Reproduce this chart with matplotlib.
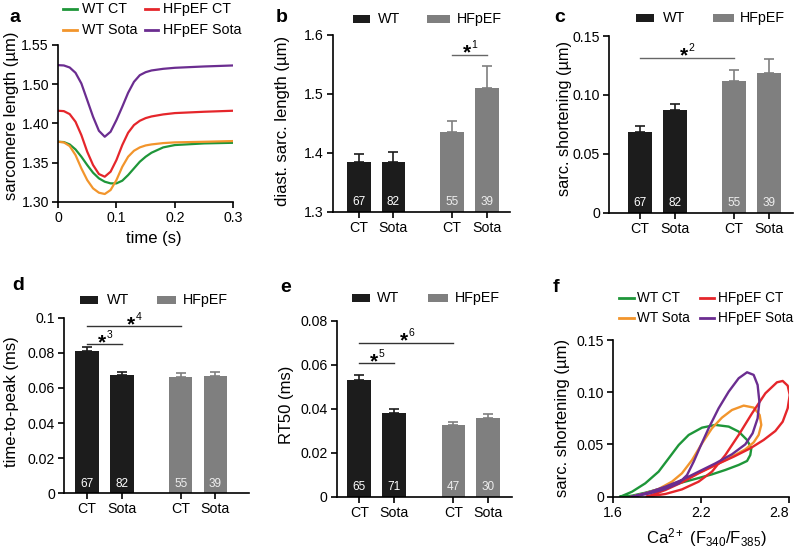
import matplotlib
matplotlib.use("Agg")
import matplotlib.pyplot as plt
from matplotlib.patches import Rectangle
from matplotlib.lines import Line2D

plt.rcParams['font.family'] = ['Liberation Sans', 'DejaVu Sans']
plt.rcParams['mathtext.fontset'] = 'custom'
plt.rcParams['mathtext.rm'] = 'Liberation Sans'
plt.rcParams['mathtext.it'] = 'Liberation Sans'
plt.rcParams['mathtext.bf'] = 'Liberation Sans:bold'

# ---------------- data ----------------
# panel a: sarcomere length transients (axis position units; tick labels as printed)
time_s = [0, 0.01, 0.02, 0.03, 0.04, 0.05, 0.06, 0.07, 0.08, 0.09, 0.10, 0.11, 0.12,
          0.13, 0.14, 0.15, 0.16, 0.18, 0.20, 0.25, 0.30]
sl_wt_ct = [1.3765, 1.3761, 1.3731, 1.3667, 1.3574, 1.3468, 1.3370, 1.3298, 1.3255, 1.3234,
            1.3234, 1.3268, 1.3340, 1.3425, 1.3510, 1.3574, 1.3625, 1.3693, 1.3723, 1.3744, 1.3752]
sl_wt_sota = [1.3765, 1.3757, 1.3710, 1.3595, 1.3425, 1.3276, 1.3170, 1.3115, 1.3098, 1.3149,
              1.3276, 1.3446, 1.3574, 1.3650, 1.3693, 1.3718, 1.3731, 1.3748, 1.3757, 1.3765, 1.3774]
sl_hf_ct = [1.4161, 1.4156, 1.4118, 1.4020, 1.3850, 1.3638, 1.3468, 1.3353, 1.3319, 1.3383,
            1.3532, 1.3723, 1.3880, 1.3978, 1.4033, 1.4067, 1.4088, 1.4114, 1.4131, 1.4148, 1.4161]
sl_hf_sota = [1.4743, 1.4739, 1.4713, 1.4645, 1.4509, 1.4297, 1.4084, 1.3905, 1.3829, 1.3893,
              1.4042, 1.4212, 1.4390, 1.4530, 1.4615, 1.4653, 1.4675, 1.4696, 1.4709, 1.4726, 1.4739]
a_yticks = [1.30, 1.35, 1.40, 1.45, 1.50]
a_yticklabels = ['1.30', '1.35', '1.40', '1.50', '1.55']

groups = ['CT', 'Sota', 'CT', 'Sota']
bar_pos = [0, 1, 2.7, 3.7]

# panel b
diast_mean = [1.384, 1.385, 1.436, 1.510]
diast_err = [0.014, 0.017, 0.019, 0.037]
diast_n = ['67', '82', '55', '39']
# panel c
short_mean = [0.0683, 0.0874, 0.1118, 0.1189]
short_err = [0.0056, 0.0049, 0.0091, 0.0113]
short_n = ['67', '82', '55', '39']
# panel d
ttp_mean = [0.0811, 0.0674, 0.0664, 0.0670]
ttp_err = [0.0021, 0.0014, 0.0020, 0.0019]
ttp_n = ['67', '82', '55', '39']
# panel e
rt50_mean = [0.0532, 0.0383, 0.0328, 0.0360]
rt50_err = [0.0022, 0.0015, 0.0014, 0.0017]
rt50_n = ['65', '71', '47', '30']

# panel f: loops (Ca ratio, shortening)
f_wt_ct_x = [1.650, 1.730, 1.820, 1.911, 1.980, 2.048, 2.116, 2.207, 2.298, 2.389, 2.457, 2.514,
             2.543, 2.536, 2.514, 2.457, 2.366, 2.275, 2.161, 2.048, 1.934, 1.820, 1.730, 1.650]
f_wt_ct_y = [0.0, 0.0048, 0.0128, 0.0240, 0.0368, 0.0495, 0.0591, 0.0661, 0.0687, 0.0671, 0.0623,
             0.0543, 0.0463, 0.0399, 0.0342, 0.0304, 0.0256, 0.0214, 0.0170, 0.0128, 0.0080,
             0.0038, 0.0010, 0.0]
f_wt_sota_x = [1.729, 1.820, 1.911, 2.002, 2.070, 2.139, 2.207, 2.275, 2.343, 2.411, 2.491, 2.559,
               2.600, 2.611, 2.593, 2.559, 2.502, 2.389, 2.275, 2.161, 2.048, 1.934, 1.820, 1.729]
f_wt_sota_y = [0.0, 0.0029, 0.0074, 0.0144, 0.0224, 0.0351, 0.0511, 0.0655, 0.0757, 0.0830, 0.0872,
               0.0853, 0.0782, 0.0687, 0.0591, 0.0520, 0.0453, 0.0367, 0.0287, 0.0214, 0.0144,
               0.0080, 0.0032, 0.0]
f_hf_ct_x = [1.832, 1.957, 2.070, 2.184, 2.275, 2.366, 2.457, 2.548, 2.639, 2.718, 2.757, 2.791,
             2.805, 2.791, 2.757, 2.707, 2.627, 2.536, 2.423, 2.298, 2.184, 2.070, 1.957, 1.832]
f_hf_ct_y = [0.0, 0.0026, 0.0070, 0.0144, 0.0240, 0.0399, 0.0591, 0.0798, 0.0990, 0.1095, 0.1108,
             0.1063, 0.0974, 0.0846, 0.0718, 0.0629, 0.0543, 0.0463, 0.0383, 0.0303, 0.0224,
             0.0137, 0.0064, 0.0]
f_hf_sota_x = [1.729, 1.843, 1.957, 2.048, 2.105, 2.150, 2.195, 2.252, 2.320, 2.389, 2.457, 2.514,
               2.559, 2.586, 2.598, 2.586, 2.552, 2.502, 2.411, 2.298, 2.184, 2.070, 1.957,
               1.843, 1.729]
f_hf_sota_y = [0.0, 0.0029, 0.0074, 0.0128, 0.0208, 0.0335, 0.0479, 0.0655, 0.0846, 0.1006,
               0.1134, 0.1191, 0.1166, 0.1070, 0.0910, 0.0750, 0.0607, 0.0501, 0.0406, 0.0319,
               0.0240, 0.0160, 0.0096, 0.0042, 0.0]

# ---------------- style ----------------
C_GREEN = '#1e9639'
C_RED = '#e5262b'
C_ORANGE = '#f2952c'
C_PURPLE = '#6b2d90'
C_WT = '#1c1c1c'
C_HF = '#7f7f7f'
bar_colors = [C_WT, C_WT, C_HF, C_HF]

W, H = 797, 552
fig = plt.figure(figsize=(W / 100, H / 100), dpi=100)


def ax_px(l, t, r, b):
    return fig.add_axes([l / W, 1 - b / H, (r - l) / W, (b - t) / H])


def ftext(x, y, s, **kw):
    fig.text(x / W, 1 - y / H, s, **kw)


def style(ax):
    for s in ['top', 'right']:
        ax.spines[s].set_visible(False)
    for s in ['left', 'bottom']:
        ax.spines[s].set_linewidth(1.2)
    ax.tick_params(direction='out', length=4.5, width=1.2, labelsize=10.2, pad=2)


def square_legend(x1, x2, y, tx, label, color):
    h = 8
    fig.add_artist(Rectangle((x1 / W, 1 - (y + h / 2) / H), (x2 - x1) / W, h / H,
                             transform=fig.transFigure, color=color, lw=0))
    ftext(tx, y, label, ha='left', va='center', fontsize=10.3)


def line_legend(x1, x2, y, tx, label, color, fs=10.3):
    fig.add_artist(Line2D([x1 / W, x2 / W], [1 - y / H, 1 - y / H], transform=fig.transFigure,
                          color=color, lw=2))
    ftext(tx, y, label, ha='left', va='center', fontsize=fs)


def sig(ax, x1, x2, y, num, color='#555555'):
    ax.plot([x1, x2], [y, y], color=color, lw=1.0, clip_on=False)
    mid = (x1 + x2) / 2
    ax.annotate('*', xy=(mid, y), xytext=(-2.0, -3.0), textcoords='offset points',
                ha='center', va='baseline', fontsize=15, fontweight='bold', annotation_clip=False)
    ax.annotate(num, xy=(mid, y), xytext=(1.2, 4.6), textcoords='offset points',
                ha='left', va='baseline', fontsize=7.5, annotation_clip=False)


def bar_panel(ax, means, errs, ns, ylim, yticks, yticklabels, xlim):
    style(ax)
    for p, m, e, c in zip(bar_pos, means, errs, bar_colors):
        ax.bar(p, m - ylim[0], bottom=ylim[0], width=0.68, color=c, zorder=2)
        ax.errorbar(p, m, yerr=[[0], [e]], color=c, capsize=3.6, elinewidth=1.2,
                    capthick=1.2, fmt='none', zorder=1)
    for p, n, c in zip(bar_pos, ns, bar_colors):
        ax.text(p, 0.055, n, transform=ax.get_xaxis_transform(), ha='center', va='center',
                fontsize=8.5, color='white' if c == C_WT else '#eeeeee')
    ax.set_xlim(*xlim)
    ax.set_ylim(*ylim)
    ax.set_yticks(yticks)
    ax.set_yticklabels(yticklabels)
    ax.set_xticks(bar_pos)
    ax.set_xticklabels(groups)


# ---------------- panel a ----------------
axa = ax_px(58, 45, 233.3, 201.7)
style(axa)
axa.plot(time_s, sl_wt_ct, color=C_GREEN, lw=1.6)
axa.plot(time_s, sl_hf_ct, color=C_RED, lw=1.6)
axa.plot(time_s, sl_wt_sota, color=C_ORANGE, lw=1.6)
axa.plot(time_s, sl_hf_sota, color=C_PURPLE, lw=1.6)
axa.set_xlim(0, 0.3)
axa.set_ylim(1.30, 1.50)
axa.set_yticks(a_yticks)
axa.set_yticklabels(a_yticklabels)
axa.set_xticks([0, 0.1, 0.2, 0.3])
axa.set_xticklabels(['0', '0.1', '0.2', '0.3'])
ftext(12, 116, 'sarcomere length (µm)', rotation=90, ha='center', va='center', fontsize=12)
ftext(154, 238, 'time (s)', ha='center', va='center', fontsize=12)
line_legend(63, 77, 9.3, 81.7, 'WT CT', C_GREEN)
line_legend(145, 158, 9.3, 163.3, 'HFpEF CT', C_RED)
line_legend(63, 77, 30, 81.7, 'WT Sota', C_ORANGE)
line_legend(145, 158, 30, 163.3, 'HFpEF Sota', C_PURPLE)
ftext(15, 18, 'a', ha='center', va='center', fontsize=14, fontweight='bold')

# ---------------- panel b ----------------
axb = ax_px(332.7, 35, 510, 212)
bar_panel(axb, diast_mean, diast_err, diast_n, (1.3, 1.6), [1.3, 1.4, 1.5, 1.6],
          ['1.3', '1.4', '1.5', '1.6'], (-0.755, 4.37))
sig(axb, 2.7, 3.7, 1.5666, '1', color='#666666')
ftext(283, 121, 'diast. sarc. length (µm)', rotation=90, ha='center', va='center', fontsize=12)
square_legend(352.7, 370, 19, 377.7, 'WT', C_WT)
square_legend(427.3, 450, 19, 456.7, 'HFpEF', C_HF)
ftext(282, 17, 'b', ha='center', va='center', fontsize=14, fontweight='bold')

# ---------------- panel c ----------------
axc = ax_px(609, 36, 793, 212.7)
bar_panel(axc, short_mean, short_err, short_n, (0, 0.15), [0, 0.05, 0.10, 0.15],
          ['0', '0.05', '0.10', '0.15'], (-0.896, 4.39))
sig(axc, 0, 2.7, 0.1317, '2', color='#666666')
ftext(565, 118, 'sarc. shortening (µm)', rotation=90, ha='center', va='center', fontsize=11.8)
square_legend(636, 654, 18, 662.7, 'WT', C_WT)
square_legend(712.7, 734, 18, 740, 'HFpEF', C_HF)
ftext(560, 18, 'c', ha='center', va='center', fontsize=14, fontweight='bold')

# ---------------- panel d ----------------
axd = ax_px(64, 317.7, 249.3, 493.3)
bar_panel(axd, ttp_mean, ttp_err, ttp_n, (0, 0.1), [0, 0.02, 0.04, 0.06, 0.08, 0.1],
          ['0', '0.02', '0.04', '0.06', '0.08', '0.1'], (-0.67, 4.68))
sig(axd, 0, 1, 0.0849, '3', color='#333333')
sig(axd, 0, 2.7, 0.0953, '4', color='#333333')
ftext(12, 402, 'time-to-peak (ms)', rotation=90, ha='center', va='center', fontsize=12)
square_legend(80, 98.3, 300, 106.7, 'WT', C_WT)
square_legend(156.7, 176, 300, 182.7, 'HFpEF', C_HF)
ftext(18, 285, 'd', ha='center', va='center', fontsize=14, fontweight='bold')

# ---------------- panel e ----------------
axe = ax_px(336.7, 321, 511.7, 496.7)
bar_panel(axe, rt50_mean, rt50_err, rt50_n, (0, 0.08), [0, 0.02, 0.04, 0.06, 0.08],
          ['0', '0.02', '0.04', '0.06', '0.08'], (-0.648, 4.37))
sig(axe, 0, 1, 0.0608, '5', color='#333333')
sig(axe, 0, 2.7, 0.0702, '6', color='#333333')
ftext(286, 405, 'RT50 (ms)', rotation=90, ha='center', va='center', fontsize=12)
square_legend(351.7, 370, 298.3, 377.3, 'WT', C_WT)
square_legend(428.3, 448.3, 298.3, 455, 'HFpEF', C_HF)
ftext(286, 287, 'e', ha='center', va='center', fontsize=14, fontweight='bold')

# ---------------- panel f ----------------
axf = ax_px(613, 340, 789, 496.7)
style(axf)
axf.plot(f_wt_ct_x, f_wt_ct_y, color=C_GREEN, lw=1.7)
axf.plot(f_wt_sota_x, f_wt_sota_y, color=C_ORANGE, lw=1.7)
axf.plot(f_hf_ct_x, f_hf_ct_y, color=C_RED, lw=1.7)
axf.plot(f_hf_sota_x, f_hf_sota_y, color=C_PURPLE, lw=1.7)
axf.set_xlim(1.6, 2.8)
axf.set_ylim(0, 0.15)
axf.set_xticks([1.6, 2.2, 2.8])
axf.set_xticklabels(['1.6', '2.2', '2.8'])
axf.get_xticklabels()[-1].set_horizontalalignment('right')
axf.set_yticks([0, 0.05, 0.10, 0.15])
axf.set_yticklabels(['0', '0.05', '0.10', '0.15'])
ftext(563, 418, 'sarc. shortening (µm)', rotation=90, ha='center', va='center', fontsize=12)
ftext(706.7, 538, 'Ca$^{2+}$ (F$_{340}$/F$_{385}$)', ha='center', va='center', fontsize=12)
line_legend(619, 634, 298.3, 637, 'WT CT', C_GREEN, fs=9.8)
line_legend(700, 714, 298.3, 718.5, 'HFpEF CT', C_RED, fs=9.8)
line_legend(619, 634, 318.3, 637, 'WT Sota', C_ORANGE, fs=9.8)
line_legend(700, 714, 318.3, 718.5, 'HFpEF Sota', C_PURPLE, fs=9.8)
ftext(556, 287, 'f', ha='center', va='center', fontsize=14, fontweight='bold')

fig.savefig('out.png', dpi=100)
